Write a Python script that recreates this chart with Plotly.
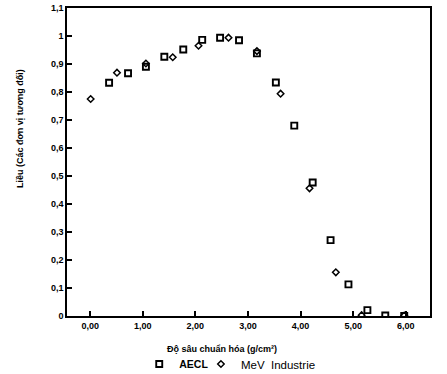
import plotly.graph_objects as go

# AECL (squares)
aecl_x = [0.36, 0.72, 1.06, 1.41, 1.77, 2.13, 2.47, 2.83, 3.17, 3.53, 3.88, 4.23, 4.57, 4.91, 5.27, 5.61, 5.97]
aecl_y = [0.833, 0.867, 0.890, 0.926, 0.952, 0.986, 0.994, 0.985, 0.938, 0.834, 0.680, 0.477, 0.271, 0.113, 0.021, 0.002, 0.0]

# MeV Industrie (diamonds)
mev_x = [0.01, 0.51, 1.06, 1.57, 2.06, 2.63, 3.17, 3.62, 4.17, 4.67, 5.16, 5.97]
mev_y = [0.775, 0.869, 0.902, 0.924, 0.965, 0.994, 0.946, 0.794, 0.456, 0.156, 0.003, 0.002]

x_tickvals = [0, 1, 2, 3, 4, 5, 6]
x_ticktext = ["0,00", "1,00", "2,00", "3,00", "4,00", "5,00", "6,00"]
y_tickvals = [0, 0.1, 0.2, 0.3, 0.4, 0.5, 0.6, 0.7, 0.8, 0.9, 1.0, 1.1]
y_ticktext = ["0", "0,1", "0,2", "0,3", "0,4", "0,5", "0,6", "0,7", "0,8", "0,9", "1", "1,1"]

x_title = "<b>Độ sâu chuẩn hóa (g/cm²)</b>"
y_title = "<b>Liều (Các đơn vị tương đối)</b>"

fig = go.Figure()
fig.add_trace(go.Scatter(
    x=aecl_x, y=aecl_y, mode="markers", name="<b>AECL</b>", legend="legend",
    marker=dict(symbol="square-open", size=6, color="black", line=dict(width=1.9, color="black")),
))
fig.add_trace(go.Scatter(
    x=mev_x, y=mev_y, mode="markers", name="MeV  Industrie", legend="legend2",
    marker=dict(symbol="diamond-open", size=5, color="black", line=dict(width=1.5, color="black")),
))

axis_common = dict(
    showline=True, linecolor="black", linewidth=1.5, mirror=True,
    ticks="inside", ticklen=5, tickwidth=1.5, tickcolor="black",
    showgrid=False, zeroline=False, automargin=False,
    tickfont=dict(family="Liberation Sans, Arial", size=9, color="black", weight="bold"),
)

fig.update_layout(
    width=447, height=374,
    margin=dict(l=67, r=17, t=8, b=58, autoexpand=False),
    paper_bgcolor="white", plot_bgcolor="white",
    font=dict(family="Liberation Sans, Arial", color="black"),
    xaxis=dict(range=[-0.44, 6.46], tickvals=x_tickvals, ticktext=x_ticktext, **axis_common),
    yaxis=dict(range=[0, 1.1], tickvals=y_tickvals, ticktext=y_ticktext, **axis_common),
    showlegend=True,
    legend=dict(orientation="h", x=0.199, xanchor="left", y=-0.156, yanchor="middle",
                font=dict(size=10.5, family="Liberation Sans, Arial", color="black"),
                itemwidth=30, bgcolor="rgba(0,0,0,0)"),
    legend2=dict(orientation="h", x=0.369, xanchor="left", y=-0.156, yanchor="middle",
                 font=dict(size=11.5, family="Liberation Sans, Arial", color="black"),
                 itemwidth=30, bgcolor="rgba(0,0,0,0)"),
    annotations=[
        dict(text=x_title, xref="paper", yref="paper", x=0.427, y=0, yshift=-33,
             xanchor="center", yanchor="middle", showarrow=False,
             font=dict(size=9, color="black", family="Liberation Sans, Arial")),
        dict(text=y_title, xref="paper", yref="paper", x=0, xshift=-47, y=0.607,
             xanchor="center", yanchor="middle", textangle=-90, showarrow=False,
             font=dict(size=9, color="black", family="Liberation Sans, Arial")),
    ],
)

fig.write_html("out.html", config={"displayModeBar": False},
               post_script="document.body.style.margin='0';")
